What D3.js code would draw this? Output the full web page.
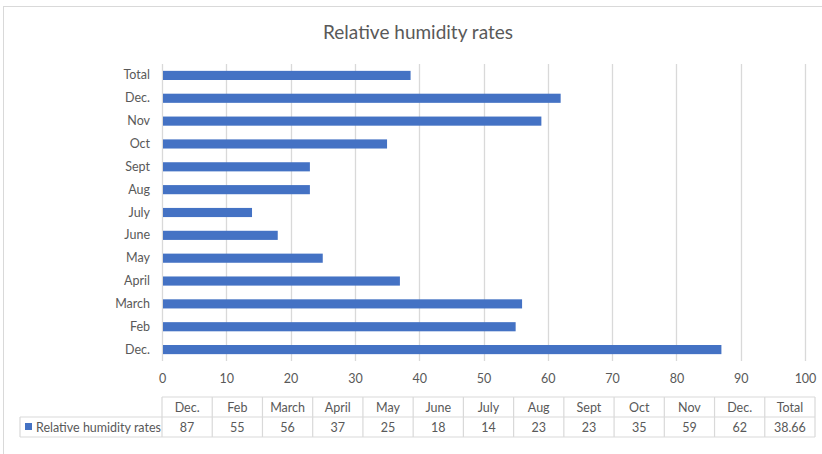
<!DOCTYPE html>
<html>
<head>
<meta charset="utf-8">
<script src="https://cdn.jsdelivr.net/npm/d3@7"></script>
<style>
  body { margin: 0; background: #fff; }
  svg text { font-family: Lato, "Open Sans", sans-serif; fill: #595959; }
</style>
</head>
<body>
<div id="chart"></div>
<script>
// data
var categories = ["Dec.", "Feb", "March", "April", "May", "June", "July", "Aug", "Sept", "Oct", "Nov", "Dec.", "Total"];
var values = [87, 55, 56, 37, 25, 18, 14, 23, 23, 35, 59, 62, 38.66];
var valueLabels = ["87", "55", "56", "37", "25", "18", "14", "23", "23", "35", "59", "62", "38.66"];
var xTicks = [0, 10, 20, 30, 40, 50, 60, 70, 80, 90, 100];
var seriesName = "Relative humidity rates";

var W = 822, H = 454;
var margin = {top: 64, left: 162, right: 17, bottom: 93};
var width = W - margin.left - margin.right,
    height = H - margin.top - margin.bottom;

var svg = d3.select("#chart").append("svg")
  .attr("width", W).attr("height", H);

// chart frame
svg.append("rect")
  .attr("x", 3.5).attr("y", 6.5)
  .attr("width", W + 10).attr("height", H + 10)
  .attr("fill", "none").attr("stroke", "#d9d9d9");

svg.append("text")
  .attr("x", 418).attr("y", 39)
  .attr("text-anchor", "middle")
  .style("font-size", "19px")
  .text("Relative humidity rates");

var idx = d3.range(categories.length);

var x = d3.scaleLinear().domain([0, 100]).range([0, width]);
var y = d3.scaleBand().domain(idx).range([height, 0]).paddingInner(0.6).paddingOuter(0.3);

var g = svg.append("g")
  .attr("transform", "translate(" + margin.left + "," + margin.top + ")");

// gridlines
g.append("g")
  .selectAll("line")
  .data(xTicks)
  .enter().append("line")
  .attr("x1", function(d) { return Math.round(x(d)) + 0.5; })
  .attr("x2", function(d) { return Math.round(x(d)) + 0.5; })
  .attr("y1", 0).attr("y2", height)
  .attr("stroke", "#d9d9d9").attr("stroke-width", 1.3);

g.selectAll(".bar")
  .data(idx)
  .enter().append("rect")
  .attr("class", "bar")
  .attr("x", x(0) + 1)
  .attr("y", function(i) { return y(i); })
  .attr("width", function(i) { return x(values[i]) - x(0) - 1; })
  .attr("height", y.bandwidth())
  .attr("fill", "#4472c4");

// category axis
var yAxis = g.append("g")
  .call(d3.axisLeft(y).tickSize(0).tickPadding(12).tickFormat(function(i) { return categories[i]; }));
yAxis.select(".domain").remove();
yAxis.selectAll("text").style("font-size", "12.5px").attr("fill", null);

// value axis
var xAxis = g.append("g")
  .attr("transform", "translate(0," + height + ")")
  .call(d3.axisBottom(x).tickValues(xTicks).tickSize(0).tickPadding(13));
xAxis.select(".domain").remove();
xAxis.selectAll("text").style("font-size", "12.5px").attr("fill", null);

// data table
var tableW = 653;
var colW = tableW / categories.length;
var tTop = 397, rowH = 20;
var table = svg.append("g");
var line = function(x1, y1, x2, y2) {
  table.append("line")
    .attr("x1", x1).attr("y1", y1).attr("x2", x2).attr("y2", y2)
    .attr("stroke", "#d9d9d9").attr("stroke-width", 1.2);
};
var x0 = margin.left, x1 = margin.left + tableW;
line(x0, tTop, x1, tTop);
line(20, tTop + rowH, x1, tTop + rowH);
line(20, tTop + 2 * rowH, x1, tTop + 2 * rowH);
line(20, tTop + rowH, 20, tTop + 2 * rowH);
idx.concat([categories.length]).forEach(function(i) {
  line(x0 + i * colW, tTop, x0 + i * colW, tTop + 2 * rowH);
});

table.selectAll(".hdr")
  .data(idx)
  .enter().append("text")
  .attr("x", function(i) { return x0 + (i + 0.5) * colW; })
  .attr("y", tTop + 14.5)
  .attr("text-anchor", "middle")
  .style("font-size", "12.5px")
  .text(function(i) { return categories[i]; });

table.selectAll(".val")
  .data(idx)
  .enter().append("text")
  .attr("x", function(i) { return x0 + (i + 0.5) * colW; })
  .attr("y", tTop + rowH + 14.5)
  .attr("text-anchor", "middle")
  .style("font-size", "12.5px")
  .text(function(i) { return valueLabels[i]; });

table.append("rect")
  .attr("x", 25).attr("y", tTop + rowH + 6)
  .attr("width", 7).attr("height", 7)
  .attr("fill", "#4472c4");
table.append("text")
  .attr("x", 36).attr("y", tTop + rowH + 14.5)
  .style("font-size", "12.5px")
  .text(seriesName);
</script>
</body>
</html>
